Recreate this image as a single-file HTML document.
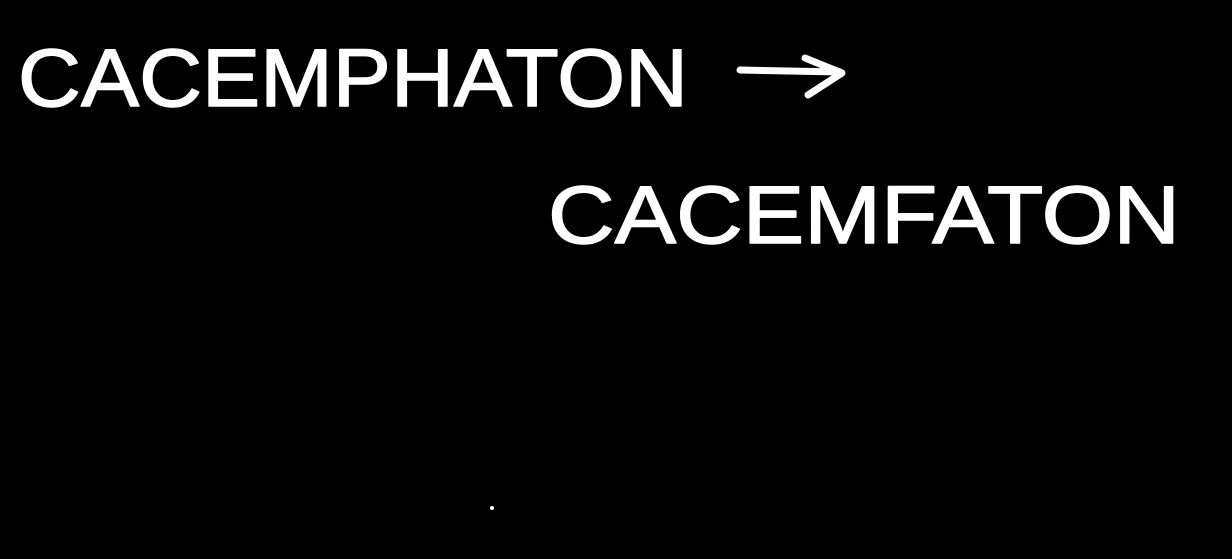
<!DOCTYPE html>
<html>
<head>
<meta charset="utf-8">
<style>
html,body{margin:0;padding:0;background:#000;width:1232px;height:559px;overflow:hidden;}
svg{display:block;}
text{font-family:"Liberation Sans",sans-serif;fill:#fff;stroke:#fff;stroke-width:1.5;stroke-linejoin:round;}
</style>
</head>
<body>
<svg width="1232" height="559" viewBox="0 0 1232 559">
  <text x="18" y="106" font-size="82" textLength="670" lengthAdjust="spacingAndGlyphs">CACEMPHATON</text>
  <g stroke="#fff" stroke-width="7" fill="none" stroke-linecap="round" stroke-linejoin="round">
    <line x1="740" y1="70" x2="840" y2="72"/>
    <polyline points="805,58 842,73 808,95"/>
  </g>
  <text x="548" y="243" font-size="82" textLength="632" lengthAdjust="spacingAndGlyphs">CACEMFATON</text>
  <circle cx="492" cy="508" r="2" fill="#fff"/>
</svg>
</body>
</html>
